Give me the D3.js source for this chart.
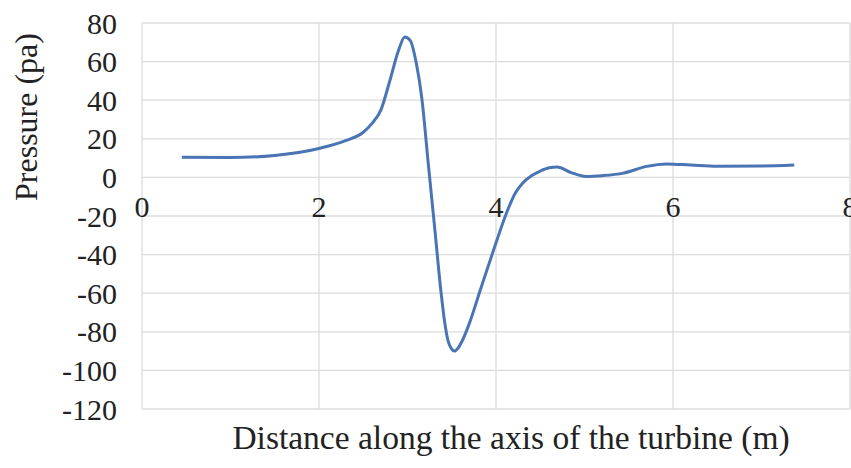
<!DOCTYPE html>
<html>
<head>
<meta charset="utf-8">
<script src="https://cdn.jsdelivr.net/npm/d3@7"></script>
<style>
  body { margin: 0; background: #fff; }
  text { font-family: "Liberation Serif", "Times New Roman", serif; fill: #222; }
</style>
</head>
<body>
<script>
var width = 851, height = 468;

// distance along the turbine axis (m)
var distance = [0.45, 1.0, 1.5, 2.0, 2.3, 2.5, 2.6, 2.7, 2.8, 2.9, 2.97, 3.03, 3.1, 3.16, 3.235, 3.31,
                3.38, 3.42, 3.46, 3.5, 3.53, 3.57, 3.62, 3.7, 3.82, 3.97, 4.14, 4.22, 4.3, 4.4, 4.5,
                4.6, 4.69, 4.85, 5.02, 5.2, 5.44, 5.7, 5.93, 6.2, 6.5, 7.0, 7.37];
// pressure (pa)
var pressure = [10.4, 10.3, 11.4, 15, 19, 23.4, 28, 35, 50, 66, 72.7, 71, 59, 41.7, 7, -27.5,
                -60, -75, -85, -89, -90, -88.5, -84.5, -75.5, -58.7, -38, -16, -8, -3, 0.8, 3.3,
                5, 5.4, 2.5, 0.5, 0.9, 2.2, 5.7, 7.0, 6.4, 5.8, 5.9, 6.4];

var xTicks = [0, 2, 4, 6, 8];
var yTicks = [80, 60, 40, 20, 0, -20, -40, -60, -80, -100, -120];

var data = distance.map(function(d, i){ return {x: d, y: pressure[i]}; });

var svg = d3.select("body").append("svg")
    .attr("width", width).attr("height", height);

var x = d3.scaleLinear().domain([0, 8]).range([142, 850]);
var y = d3.scaleLinear().domain([-120, 80]).range([409, 23]);

/* gridlines */
svg.append("g").selectAll("line").data(yTicks).enter().append("line")
    .attr("x1", x(0)).attr("x2", x(8))
    .attr("y1", function(d){ return y(d); }).attr("y2", function(d){ return y(d); })
    .style("stroke", "#dcdcdc").style("stroke-width", 1.3);

svg.append("g").selectAll("line").data(xTicks).enter().append("line")
    .attr("x1", function(d){ return x(d); }).attr("x2", function(d){ return x(d); })
    .attr("y1", y(80)).attr("y2", y(-120))
    .style("stroke", "#dcdcdc").style("stroke-width", 1.3);

/* tick labels */
svg.append("g").selectAll("text").data(yTicks).enter().append("text")
    .attr("x", 117).attr("y", function(d){ return y(d); })
    .attr("dy", "0.35em")
    .attr("text-anchor", "end")
    .style("font-size", "30px")
    .text(function(d){ return d; });

svg.append("g").selectAll("text").data(xTicks).enter().append("text")
    .attr("x", function(d){ return x(d); }).attr("y", y(0) + 40)
    .attr("text-anchor", "middle")
    .style("font-size", "30px")
    .text(function(d){ return d; });

/* curve */
var line = d3.line()
    .x(function(d){ return x(d.x); })
    .y(function(d){ return y(d.y); })
    .curve(d3.curveMonotoneX);

svg.append("path").datum(data)
    .attr("d", line)
    .style("fill", "none")
    .style("stroke", "#4a74b4")
    .style("stroke-width", 3);

/* axis titles */
svg.append("text")
    .attr("transform", "translate(37," + 117 + ") rotate(-90)")
    .attr("text-anchor", "middle")
    .style("font-size", "32px")
    .text("Pressure (pa)");

svg.append("text")
    .attr("x", 511).attr("y", 449)
    .attr("text-anchor", "middle")
    .style("font-size", "33.5px")
    .text("Distance along the axis of the turbine (m)");
</script>
</body>
</html>
